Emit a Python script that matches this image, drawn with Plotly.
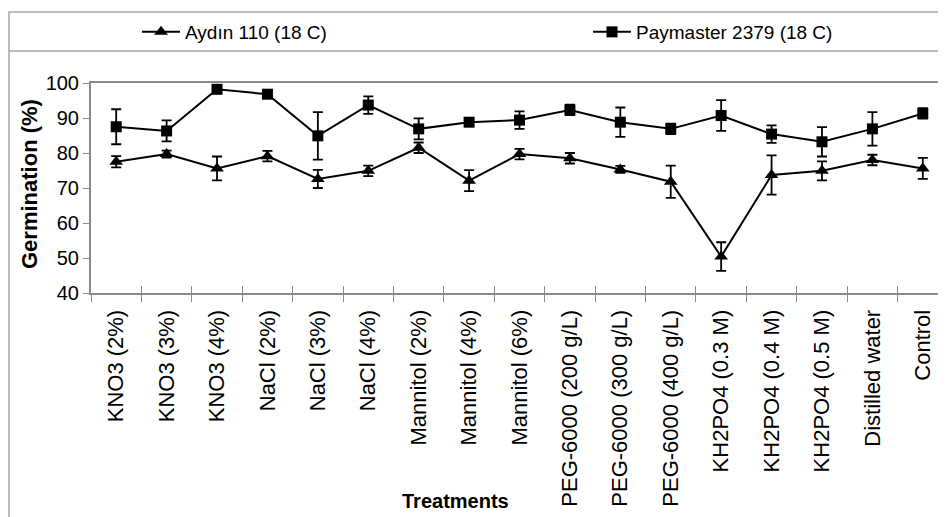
import plotly.graph_objects as go

categories = ["KNO3 (2%)", "KNO3 (3%)", "KNO3 (4%)", "NaCl (2%)", "NaCl (3%)", "NaCl (4%)",
              "Mannitol (2%)", "Mannitol (4%)", "Mannitol (6%)",
              "PEG-6000 (200 g/L)", "PEG-6000 (300 g/L)", "PEG-6000 (400 g/L)",
              "KH2PO4 (0.3 M)", "KH2PO4 (0.4 M)", "KH2PO4 (0.5 M)", "Distilled water", "Control"]

aydin_vals = [77.5, 79.7, 75.6, 79.1, 72.6, 74.9, 81.5, 72.1, 79.7, 78.5, 75.3, 71.8, 50.4, 73.7, 74.9, 78.0, 75.6]
aydin_err = [1.6, 1.0, 3.4, 1.5, 2.6, 1.5, 1.5, 3.0, 1.5, 1.5, 1.0, 4.6, 4.1, 5.6, 2.7, 1.5, 3.0]

paymaster_vals = [87.5, 86.3, 98.2, 96.8, 84.9, 93.7, 86.9, 88.8, 89.4, 92.3, 88.8, 86.9, 90.7, 85.4, 83.2, 86.9, 91.3]
paymaster_err = [5.0, 3.0, 1.0, 1.0, 6.8, 2.5, 3.0, 1.0, 2.5, 1.5, 4.2, 1.5, 4.4, 2.5, 4.2, 4.8, 1.5]

series_names = ["Aydın 110 (18 C)", "Paymaster 2379 (18 C)"]

REG = "Liberation Sans, Arial, sans-serif"
AXIS_GRAY = "#8a8a8a"
FRAME_GRAY = "#a8a8a8"

fig = go.Figure()
fig.add_trace(go.Scatter(
    x=categories, y=aydin_vals, name=series_names[0], mode="lines+markers",
    line=dict(color="black", width=2),
    marker=dict(symbol="triangle-up", size=12, color="black"),
    error_y=dict(type="data", array=aydin_err, visible=True, color="black", thickness=1.8, width=5),
    legend="legend",
))
fig.add_trace(go.Scatter(
    x=categories, y=paymaster_vals, name=series_names[1], mode="lines+markers",
    line=dict(color="black", width=2),
    marker=dict(symbol="square", size=11, color="black"),
    error_y=dict(type="data", array=paymaster_err, visible=True, color="black", thickness=1.8, width=5),
    legend="legend2",
))

# page body has an 8px margin: figure is placed at (8, 8) in the window
OFF = 8
W, H = 946 - OFF, 517 - OFF
L, R, T, B = 91 - OFF, 0, 83 - OFF, H - (293 - OFF)
pw = W - L - R
ph = H - T - B

def px_x(wx):
    return (wx - OFF - L) / pw

def px_y(wy):
    return (H - B - (wy - OFF)) / ph

xr = [-0.5, 16.46]

legend_common = dict(orientation="h", yanchor="middle", xanchor="left",
                     font=dict(family=REG, size=19, color="black"),
                     itemwidth=38, bgcolor="rgba(0,0,0,0)")

fig.update_layout(
    width=W, height=H,
    margin=dict(l=L, r=R, t=T, b=B, pad=0, autoexpand=False),
    paper_bgcolor="white", plot_bgcolor="white",
    showlegend=True,
    legend=dict(x=px_x(137), y=px_y(32), **legend_common),
    legend2=dict(x=px_x(588), y=px_y(32), **legend_common),
    xaxis=dict(type="category", categoryorder="array", categoryarray=categories,
               range=xr, showline=True, linecolor=AXIS_GRAY, linewidth=2, mirror=True,
               ticks="outside", tickson="boundaries", ticklen=7, tickcolor=AXIS_GRAY, tickwidth=1,
               tickangle=-90, tickfont=dict(family=REG, size=22, color="black"),
               ticklabelstandoff=6, showgrid=False, zeroline=False, automargin=False),
    xaxis2=dict(overlaying="x", anchor="y", range=xr, tick0=0.5, dtick=1, ticks="inside",
                ticklen=7, tickcolor=AXIS_GRAY, tickwidth=1, showticklabels=False,
                showline=False, showgrid=False, zeroline=False),
    yaxis=dict(range=[40, 100], dtick=10, showline=True, linecolor=AXIS_GRAY, linewidth=2,
               ticks="outside", ticklen=6, tickcolor=AXIS_GRAY, tickwidth=1,
               tickfont=dict(family=REG, size=20, color="black"),
               showgrid=False, zeroline=False, automargin=False),
)

# invisible trace to activate overlay axis
fig.add_trace(go.Scatter(x=[xr[0], xr[1]], y=[None, None], xaxis="x2", yaxis="y",
                         showlegend=False, hoverinfo="skip", mode="markers"))

# chart frame and legend box
fig.add_shape(type="rect", xref="paper", yref="paper", x0=px_x(9), x1=px_x(970),
              y0=px_y(540), y1=px_y(12), line=dict(color=FRAME_GRAY, width=1.5), layer="below")
fig.add_shape(type="line", xref="paper", yref="paper", x0=px_x(9), x1=px_x(970),
              y0=px_y(51), y1=px_y(51), line=dict(color=FRAME_GRAY, width=1.5), layer="below")

fig.add_annotation(text="<b>Germination (%)</b>", xref="paper", yref="paper",
                   x=px_x(29), y=px_y(184), textangle=-90, showarrow=False,
                   font=dict(family=REG, size=22, color="black"), xanchor="center", yanchor="middle")
fig.add_annotation(text="<b>Treatments</b>", xref="paper", yref="paper",
                   x=px_x(455), y=px_y(501), showarrow=False,
                   font=dict(family=REG, size=20, color="black"), xanchor="center", yanchor="middle")

fig.write_html("out.html")
